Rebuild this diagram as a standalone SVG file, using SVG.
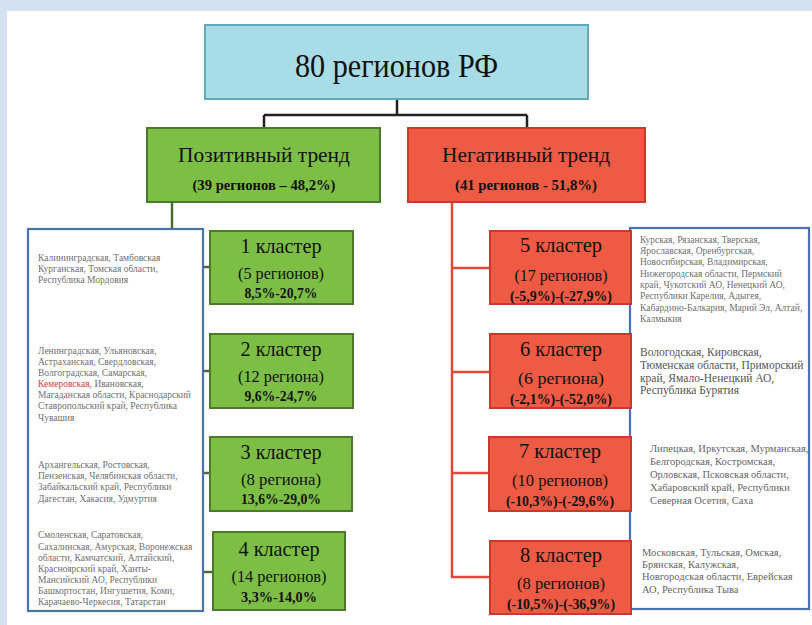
<svg xmlns="http://www.w3.org/2000/svg" width="812" height="625" viewBox="0 0 812 625" font-family="Liberation Serif, DejaVu Serif, serif">
<style>
.t{fill:#111;text-anchor:middle;font-family:"Liberation Serif",serif}
.b{font-weight:bold}
.pos{fill:#7dbf45;stroke:#4d7a2a;stroke-width:2}
.neg{fill:#ef5a44;stroke:#c83a2c;stroke-width:2}
.lst{fill:#fff;stroke:#4a72b0;stroke-width:2.2}
.l{fill:#707070;font-size:9.5px;font-family:"Liberation Serif",serif}
.l2{fill:#555;font-size:11.5px;font-family:"Liberation Serif",serif}
.l3{fill:#666;font-size:10.5px;font-family:"Liberation Serif",serif}
</style>
<rect x="0" y="0" width="812" height="625" fill="#d4e1f1"/>
<rect x="7" y="11" width="805" height="614" fill="#fff"/>

<g id="connectors" fill="none" stroke-width="2.5">
  <path d="M397,99 V115 M264,115 H527 M264,115 V128 M527,115 V128" stroke="#222"/>
  <path d="M172,202 V572 M172,267 H210 M172,371 H210 M172,473 H210 M172,572 H213" stroke="#4d6e2a"/>
  <path d="M452,202 V577 H490 M452,268 H490 M452,372 H490 M452,473 H489" stroke="#e0483a"/>
</g>

<g id="root">
  <rect x="205" y="25" width="383" height="74" fill="#a8dce6" stroke="#62aabb" stroke-width="2"/>
  <text class="t" x="396.5" y="77" font-size="34" textLength="203" lengthAdjust="spacingAndGlyphs">80 регионов РФ</text>
</g>

<g id="positive">
  <rect class="pos" x="147" y="128" width="233" height="74"/>
  <text class="t" x="264" y="162" font-size="22" textLength="172" lengthAdjust="spacingAndGlyphs">Позитивный тренд</text>
  <text class="t b" x="264" y="190" font-size="15" textLength="143" lengthAdjust="spacingAndGlyphs">(39 регионов – 48,2%)</text>
</g>

<g id="negative">
  <rect class="neg" x="408" y="128" width="237" height="74"/>
  <text class="t" x="526" y="162" font-size="22" textLength="168" lengthAdjust="spacingAndGlyphs">Негативный тренд</text>
  <text class="t b" x="526" y="190" font-size="15" textLength="142" lengthAdjust="spacingAndGlyphs">(41 регионов - 51,8%)</text>
</g>

<g id="list-positive">
  <rect class="lst" x="28" y="229" width="175" height="382"/>
  <text class="l" x="38" y="261">Калининградская, Тамбовская</text>
  <text class="l" x="38" y="272">Курганская, Томская области,</text>
  <text class="l" x="38" y="283">Республика Мордовия</text>
  <text class="l" x="38" y="354">Ленинградская, Ульяновская,</text>
  <text class="l" x="38" y="365">Астраханская, Свердловская,</text>
  <text class="l" x="38" y="376">Волгоградская, Самарская,</text>
  <text class="l" x="38" y="387"><tspan fill="#e63a3a">Кемеровская,</tspan> Ивановская,</text>
  <text class="l" x="38" y="398">Магаданская области, Краснодарский</text>
  <text class="l" x="38" y="409">Ставропольский край, Республика</text>
  <text class="l" x="38" y="421">Чувашия</text>
  <text class="l" x="38" y="468">Архангельская, Ростовская,</text>
  <text class="l" x="38" y="479">Пензенская, Челябинская области,</text>
  <text class="l" x="38" y="490">Забайкальский край, Республики</text>
  <text class="l" x="38" y="502">Дагестан, Хакасия, Удмуртия</text>
  <text class="l" x="38" y="538">Смоленская, Саратовская,</text>
  <text class="l" x="38" y="550">Сахалинская, Амурская, Воронежская</text>
  <text class="l" x="38" y="561">области, Камчатский, Алтайский,</text>
  <text class="l" x="38" y="572">Красноярский край, Ханты-</text>
  <text class="l" x="38" y="583">Мансийский АО, Республики</text>
  <text class="l" x="38" y="594">Башкортостан, Ингушетия, Коми,</text>
  <text class="l" x="38" y="605">Карачаево-Черкесия, Татарстан</text>
</g>

<g id="list-negative">
  <rect class="lst" x="630" y="228" width="179" height="381"/>
  <text class="l" x="640" y="243">Курская, Рязанская, Тверская,</text>
  <text class="l" x="640" y="254">Ярославская, Оренбургская,</text>
  <text class="l" x="640" y="265">Новосибирская, Владимирская,</text>
  <text class="l" x="640" y="277">Нижегородская области, Пермский</text>
  <text class="l" x="640" y="288">край, Чукотский АО, Ненецкий АО,</text>
  <text class="l" x="640" y="299">Республики Карелия, Адыгея,</text>
  <text class="l" x="640" y="311">Кабардино-Балкария, Марий Эл, Алтай,</text>
  <text class="l" x="640" y="322">Калмыкия</text>
  <text class="l2" x="640" y="356">Вологодская, Кировская,</text>
  <text class="l2" x="640" y="369">Тюменская области, Приморский</text>
  <text class="l2" x="640" y="382">край, Ямало-Ненецкий АО,</text>
  <text class="l2" x="640" y="394">Республика Бурятия</text>
  <text class="l3" x="650" y="452">Липецкая, Иркутская, Мурманская,</text>
  <text class="l3" x="650" y="465">Белгородская, Костромская,</text>
  <text class="l3" x="650" y="478">Орловская, Псковская области,</text>
  <text class="l3" x="650" y="491">Хабаровский край, Республики</text>
  <text class="l3" x="650" y="504">Северная Осетия, Саха</text>
  <text class="l3" x="642" y="556">Московская, Тульская, Омская,</text>
  <text class="l3" x="642" y="568">Брянская, Калужская,</text>
  <text class="l3" x="642" y="580">Новгородская области, Еврейская</text>
  <text class="l3" x="642" y="593">АО, Республика Тыва</text>
</g>

<g id="cluster1">
  <rect class="pos" x="210" y="231" width="143" height="73"/>
  <text class="t" x="281" y="253" font-size="22" textLength="81" lengthAdjust="spacingAndGlyphs">1 кластер</text>
  <text class="t" x="281" y="279" font-size="16" textLength="86" lengthAdjust="spacingAndGlyphs">(5 регионов)</text>
  <text class="t b" x="281" y="298" font-size="14" textLength="73" lengthAdjust="spacingAndGlyphs">8,5%-20,7%</text>
</g>
<g id="cluster2">
  <rect class="pos" x="210" y="334" width="143" height="74"/>
  <text class="t" x="281" y="356" font-size="22" textLength="81" lengthAdjust="spacingAndGlyphs">2 кластер</text>
  <text class="t" x="281" y="382" font-size="16" textLength="86" lengthAdjust="spacingAndGlyphs">(12 региона)</text>
  <text class="t b" x="281" y="401" font-size="14" textLength="73" lengthAdjust="spacingAndGlyphs">9,6%-24,7%</text>
</g>
<g id="cluster3">
  <rect class="pos" x="210" y="437" width="142" height="74"/>
  <text class="t" x="281" y="459" font-size="22" textLength="81" lengthAdjust="spacingAndGlyphs">3 кластер</text>
  <text class="t" x="281" y="485" font-size="16" textLength="80" lengthAdjust="spacingAndGlyphs">(8 региона)</text>
  <text class="t b" x="281" y="504" font-size="14" textLength="80" lengthAdjust="spacingAndGlyphs">13,6%-29,0%</text>
</g>
<g id="cluster4">
  <rect class="pos" x="213" y="532" width="132" height="78"/>
  <text class="t" x="279" y="556" font-size="22" textLength="81" lengthAdjust="spacingAndGlyphs">4 кластер</text>
  <text class="t" x="279" y="582" font-size="16" textLength="95" lengthAdjust="spacingAndGlyphs">(14 регионов)</text>
  <text class="t b" x="279" y="602" font-size="14" textLength="76" lengthAdjust="spacingAndGlyphs">3,3%-14,0%</text>
</g>

<g id="cluster5">
  <rect class="neg" x="490" y="231" width="141" height="73"/>
  <text class="t" x="561" y="252" font-size="22" textLength="82" lengthAdjust="spacingAndGlyphs">5 кластер</text>
  <text class="t" x="561" y="281" font-size="16" textLength="93" lengthAdjust="spacingAndGlyphs">(17 регионов)</text>
  <text class="t b" x="561" y="301" font-size="14" textLength="102" lengthAdjust="spacingAndGlyphs">(-5,9%)-(-27,9%)</text>
</g>
<g id="cluster6">
  <rect class="neg" x="490" y="334" width="141" height="74"/>
  <text class="t" x="561" y="356" font-size="22" textLength="82" lengthAdjust="spacingAndGlyphs">6 кластер</text>
  <text class="t" x="561" y="384" font-size="16" textLength="86" lengthAdjust="spacingAndGlyphs">(6 региона)</text>
  <text class="t b" x="561" y="404" font-size="14" textLength="102" lengthAdjust="spacingAndGlyphs">(-2,1%)-(-52,0%)</text>
</g>
<g id="cluster7">
  <rect class="neg" x="489" y="437" width="142" height="74"/>
  <text class="t" x="560" y="458" font-size="22" textLength="82" lengthAdjust="spacingAndGlyphs">7 кластер</text>
  <text class="t" x="560" y="486" font-size="16" textLength="96" lengthAdjust="spacingAndGlyphs">(10 регионов)</text>
  <text class="t b" x="560" y="506" font-size="14" textLength="108" lengthAdjust="spacingAndGlyphs">(-10,3%)-(-29,6%)</text>
</g>
<g id="cluster8">
  <rect class="neg" x="490" y="541" width="141" height="73"/>
  <text class="t" x="561" y="562" font-size="22" textLength="82" lengthAdjust="spacingAndGlyphs">8 кластер</text>
  <text class="t" x="561" y="589" font-size="16" textLength="88" lengthAdjust="spacingAndGlyphs">(8 регионов)</text>
  <text class="t b" x="561" y="609" font-size="14" textLength="108" lengthAdjust="spacingAndGlyphs">(-10,5%)-(-36,9%)</text>
</g>
</svg>
